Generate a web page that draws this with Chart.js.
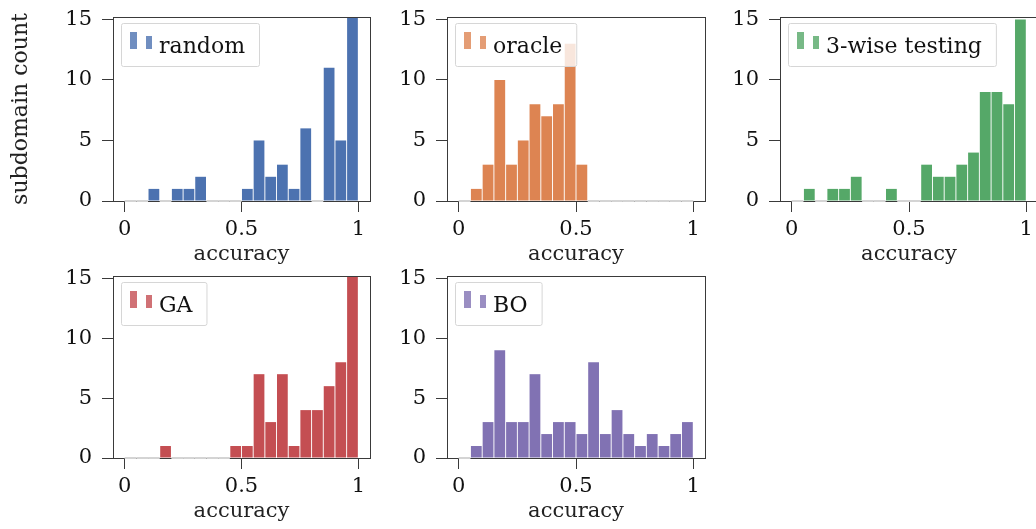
<!DOCTYPE html>
<html>
<head>
<meta charset="utf-8">
<script src="https://cdn.jsdelivr.net/npm/chart.js@4.4.1/dist/chart.umd.min.js"></script>
<style>
    html, body { margin: 0; padding: 0; background: #fff; overflow: hidden; }
    body { width: 1036px; height: 529px; position: relative; }
    canvas { position: absolute; }
</style>
</head>
<body>
<canvas id="c-random"></canvas>
<canvas id="c-oracle"></canvas>
<canvas id="c-3wise"></canvas>
<canvas id="c-ga"></canvas>
<canvas id="c-bo"></canvas>
<script>
// Centros de los 20 bins (ancho 0.05)
const binCenters = [0.025, 0.075, 0.125, 0.175, 0.225, 0.275, 0.325, 0.375, 0.425, 0.475,
                    0.525, 0.575, 0.625, 0.675, 0.725, 0.775, 0.825, 0.875, 0.925, 0.975];
const binWidth = 0.05;

// Cuentas por bin
const random = [0, 0, 1, 0, 1, 1, 2, 0, 0, 0, 1, 5, 2, 3, 1, 6, 0, 11, 5, 22];
const oracle = [0, 1, 3, 10, 3, 5, 8, 7, 8, 13, 3, 0, 0, 0, 0, 0, 0, 0, 0, 0];
const threeWise = [0, 1, 0, 1, 1, 2, 0, 0, 1, 0, 0, 3, 2, 2, 3, 4, 9, 9, 8, 15];
const ga = [0, 0, 0, 1, 0, 0, 0, 0, 0, 1, 1, 7, 3, 7, 1, 4, 4, 6, 8, 18];
const bo = [0, 1, 3, 9, 3, 3, 7, 2, 3, 3, 2, 8, 2, 4, 2, 1, 2, 1, 2, 3];

const xTicks = [0, 0.5, 1];
const yTicks = [0, 5, 10, 15];

const fuente = 'DejaVu Serif';
const colorEje = '#3a3a3a';

// marco, lineas de bins vacios y leyenda
const marcoPlugin = {
    id: 'marco',
    afterDatasetsDraw(chart) {
        const a = chart.chartArea;
        const ctx = chart.ctx;
        const x = chart.scales.x, y = chart.scales.y;
        ctx.save();
        ctx.strokeStyle = colorEje;
        ctx.lineWidth = 1;
        ctx.strokeRect(Math.round(a.left) + 0.5, Math.round(a.top) + 0.5,
                       Math.round(a.right - a.left), Math.round(a.bottom - a.top));
        // bins con cuenta 0: borde claro sobre el eje
        const datos = chart.data.datasets[0].data;
        ctx.strokeStyle = '#d4d4d4';
        ctx.lineWidth = 2;
        datos.forEach(p => {
            if (p.y === 0) {
                ctx.beginPath();
                ctx.moveTo(x.getPixelForValue(p.x - binWidth / 2), y.getPixelForValue(0));
                ctx.lineTo(x.getPixelForValue(p.x + binWidth / 2), y.getPixelForValue(0));
                ctx.stroke();
            }
        });
        ctx.restore();
    },
    afterDraw(chart, args, opts) {
        const a = chart.chartArea;
        const ctx = chart.ctx;
        ctx.save();
        ctx.font = '22px "' + fuente + '"';
        const ancho = 38 + ctx.measureText(opts.label).width + 14;
        const bx = a.left + 8, by = a.top + 6, alto = 43;
        ctx.beginPath();
        ctx.roundRect(bx + 0.5, by + 0.5, ancho, alto, 2);
        ctx.fillStyle = 'rgba(255,255,255,0.8)';
        ctx.fill();
        ctx.strokeStyle = '#d6d6d6';
        ctx.lineWidth = 1;
        ctx.stroke();
        ctx.globalAlpha = 0.8;
        ctx.fillStyle = opts.color;
        ctx.fillRect(bx + 9, by + 9, 7, 17);
        ctx.fillRect(bx + 25, by + 13, 6, 13);
        ctx.globalAlpha = 1;
        ctx.fillStyle = '#111';
        ctx.textBaseline = 'alphabetic';
        ctx.fillText(opts.label, bx + 38, by + 30);
        ctx.restore();
    }
};

function sinMargen(s) {
    s.paddingTop = 0;
    s.paddingBottom = 0;
    s.paddingLeft = 0;
    s.paddingRight = 0;
}

function dibujarHistograma(id, valores, etiqueta, color, pos) {
    const canvas = document.getElementById(id);
    canvas.width = pos.w;
    canvas.height = pos.h;
    canvas.style.left = pos.left + 'px';
    canvas.style.top = pos.top + 'px';

    const puntos = binCenters.map((c, i) => ({ x: c, y: valores[i] }));
    const fuenteTicks = { family: fuente, size: 21 };

    new Chart(canvas.getContext('2d'), {
        type: 'bar',
        data: {
            datasets: [{
                data: puntos,
                backgroundColor: color,
                borderWidth: 0,
                barPercentage: 0.92,
                categoryPercentage: 1
            }]
        },
        options: {
            responsive: false,
            animation: false,
            layout: { padding: { top: 17, right: 12, left: 0, bottom: 0 } },
            plugins: {
                legend: { display: false },
                tooltip: { enabled: false },
                marco: { label: etiqueta, color: color }
            },
            scales: {
                x: {
                    type: 'linear',
                    min: -0.05,
                    max: 1.05,
                    offset: false,
                    afterBuildTicks: s => { s.ticks = xTicks.map(v => ({ value: v })); },
                    afterFit: s => { s.height = 66; sinMargen(s); },
                    grid: { offset: false, drawOnChartArea: false, tickLength: 11, color: colorEje },
                    border: { display: false },
                    ticks: { font: fuenteTicks, color: '#111', padding: 5, maxRotation: 0, autoSkip: false,
                             callback: v => String(v) },
                    title: { display: true, text: 'accuracy', font: fuenteTicks, color: '#222', padding: 0 }
                },
                y: {
                    min: 0,
                    max: 15.2,
                    afterBuildTicks: s => { s.ticks = yTicks.map(v => ({ value: v })); },
                    afterFit: s => { s.width = pos.yw; sinMargen(s); },
                    grid: { drawOnChartArea: false, tickLength: 11, color: colorEje },
                    border: { display: false },
                    ticks: { font: fuenteTicks, color: '#111', padding: 10 },
                    title: { display: pos.ytitle, text: 'subdomain count', font: { family: fuente, size: 22 },
                             color: '#222', padding: { top: 8, bottom: 0 } }
                }
            }
        },
        plugins: [marcoPlugin]
    });
}

dibujarHistograma('c-random', random, 'random', '#4c72b0', { left: 0, top: 0, w: 382, h: 267, yw: 113, ytitle: true });
dibujarHistograma('c-oracle', oracle, 'oracle', '#dd8452', { left: 397, top: 0, w: 320, h: 267, yw: 50, ytitle: false });
dibujarHistograma('c-3wise', threeWise, '3-wise testing', '#55a868', { left: 730, top: 0, w: 320, h: 267, yw: 50, ytitle: false });
dibujarHistograma('c-ga', ga, 'GA', '#c44e52', { left: 0, top: 259, w: 382, h: 265, yw: 113, ytitle: false });
dibujarHistograma('c-bo', bo, 'BO', '#8172b3', { left: 397, top: 259, w: 320, h: 265, yw: 50, ytitle: false });
</script>
</body>
</html>
